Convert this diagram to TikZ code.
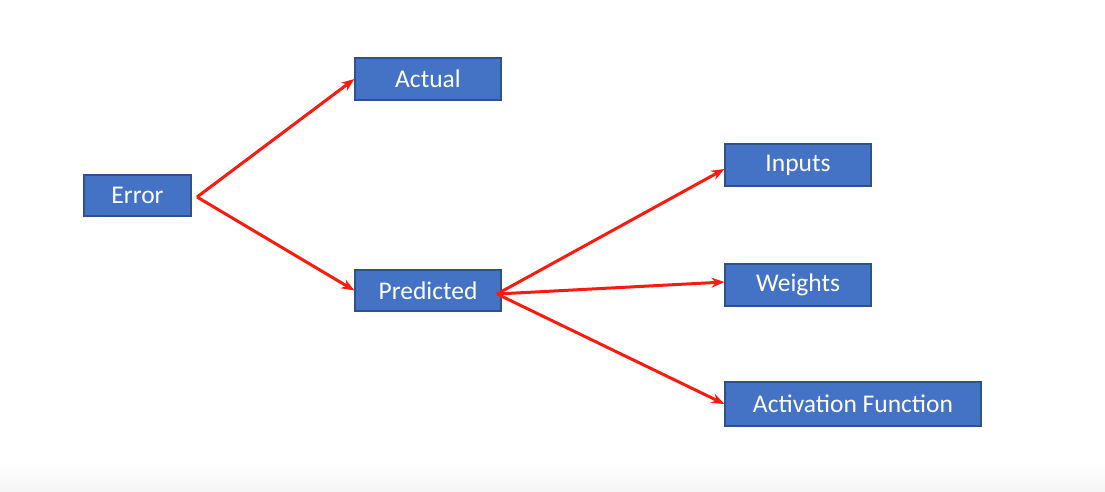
\documentclass[tikz,border=0pt]{standalone}
\usepackage{fontspec}
\setmainfont{Carlito}
\usetikzlibrary{arrows.meta}
\definecolor{boxfill}{HTML}{4472C4}
\definecolor{boxline}{HTML}{2F528F}
\definecolor{linkred}{HTML}{FF1A0E}
\begin{document}
\begin{tikzpicture}[x=1pt,y=-1pt,
  box/.style={draw=boxline, line width=1.2pt, fill=boxfill, text=white, inner sep=0pt, minimum height=42pt, font=\fontsize{25.5}{30}\selectfont},
  link/.style={draw=linkred, line width=3pt, -{Stealth[length=13pt,width=10pt]}}]
\useasboundingbox (0,0) rectangle (1105,491);
\shade[top color=white, bottom color=black!4] (0,462) rectangle (1105,491);
\node[box, minimum width=107pt, minimum height=41pt] (error) at (137.5,195.5) {Error};
\node[box, minimum width=146pt] (actual) at (428,79) {Actual};
\node[box, minimum width=146pt, minimum height=41pt] (predicted) at (428,290.5) {Predicted};
\node[box, minimum width=146pt] (inputs) at (798,165) {Inputs};
\node[box, minimum width=146pt] (weights) at (798,285) {Weights};
\node[box, minimum width=256pt, minimum height=44pt] (activation) at (853,404) {Activation Function};
\coordinate (errout) at (197,197);
\coordinate (predout) at (497,294);
\draw[link] (errout) -- (actual.west);
\draw[link] (errout) -- (predicted.west);
\draw[link] (predout) -- ([yshift=-4pt]inputs.west);
\draw[link] (predout) -- ([yshift=3pt]weights.west);
\draw[link] (predout) -- (activation.west);
\end{tikzpicture}
\end{document}
